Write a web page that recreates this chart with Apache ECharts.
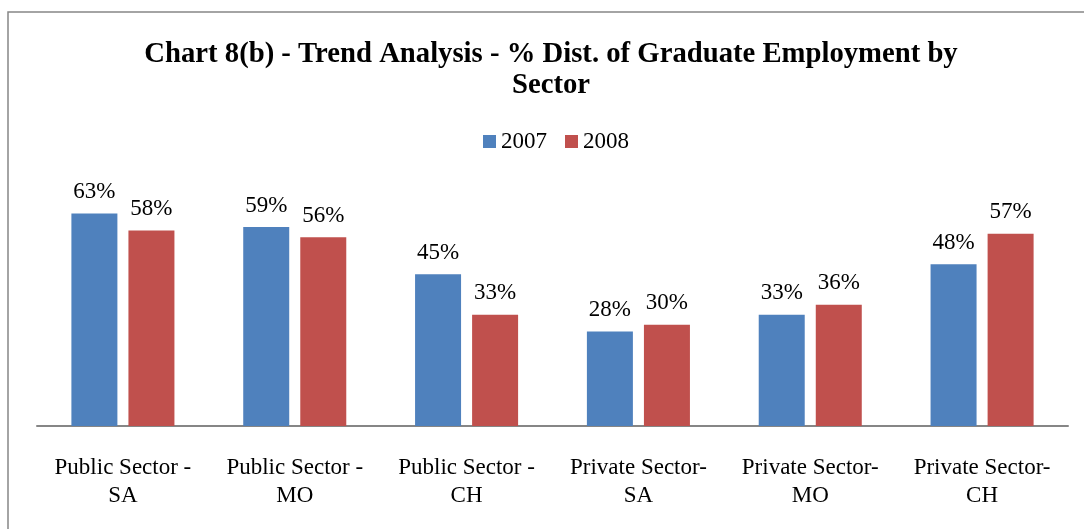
<!DOCTYPE html>
<html>
<head>
<meta charset="utf-8">
<title>Chart 8(b)</title>
<script src="https://cdn.jsdelivr.net/npm/echarts@6/dist/echarts.min.js"></script>
<style>
  html, body { margin: 0; padding: 0; background: #fff; }
  #chart { width: 1084px; height: 529px; }
</style>
</head>
<body>
<div id="chart"></div>
<script>
// data
const categories = [
  'Public Sector -\nSA', 'Public Sector -\nMO', 'Public Sector -\nCH',
  'Private Sector-\nSA', 'Private Sector-\nMO', 'Private Sector-\nCH'
];
const seriesNames = ['2007', '2008'];
const values2007 = [63, 59, 45, 28, 33, 48];
const values2008 = [58, 56, 33, 30, 36, 57];

const serif = '"Liberation Serif", "Times New Roman", serif';

const barSeries = (name, data, color) => ({
  name,
  type: 'bar',
  data,
  barWidth: 46,
  barGap: '24%',
  itemStyle: { color },
  label: {
    show: true,
    position: 'top',
    distance: 10,
    formatter: '{c}%',
    color: '#000',
    fontFamily: serif,
    fontSize: 23
  }
});

const options = {
  animation: false,
  title: {
    text: 'Chart 8(b) - Trend Analysis - % Dist. of Graduate Employment by\nSector',
    left: 546,
    textAlign: 'center',
    top: 34,
    textStyle: {
      fontFamily: serif,
      fontWeight: 'bold',
      fontSize: 28.7,
      lineHeight: 31,
      color: '#000'
    }
  },
  legend: {
    data: seriesNames,
    left: 478,
    top: 125,
    itemWidth: 13,
    itemHeight: 13,
    itemGap: 18,
    icon: 'rect',
    textStyle: { fontFamily: serif, fontSize: 23, color: '#000' }
  },
  grid: { left: 37, right: 16, top: 190, bottom: 103 },
  xAxis: {
    type: 'category',
    data: categories,
    axisLine: { lineStyle: { color: '#868686', width: 2 } },
    axisTick: { show: false },
    axisLabel: {
      interval: 0,
      margin: 28,
      fontFamily: serif,
      fontSize: 23,
      lineHeight: 28,
      color: '#000'
    }
  },
  yAxis: {
    type: 'value',
    min: 0,
    max: 70,
    show: false
  },
  graphic: [{
    type: 'rect',
    shape: { x: 8, y: 12, width: 1090, height: 540 },
    style: { fill: 'none', stroke: '#878787', lineWidth: 1.5 },
    silent: true
  }],
  series: [
    barSeries('2007', values2007, '#4f81bd'),
    barSeries('2008', values2008, '#c0504d')
  ]
};

const chart = echarts.init(document.getElementById('chart'));
chart.setOption(options);
window.addEventListener('resize', () => chart.resize());
</script>
</body>
</html>
